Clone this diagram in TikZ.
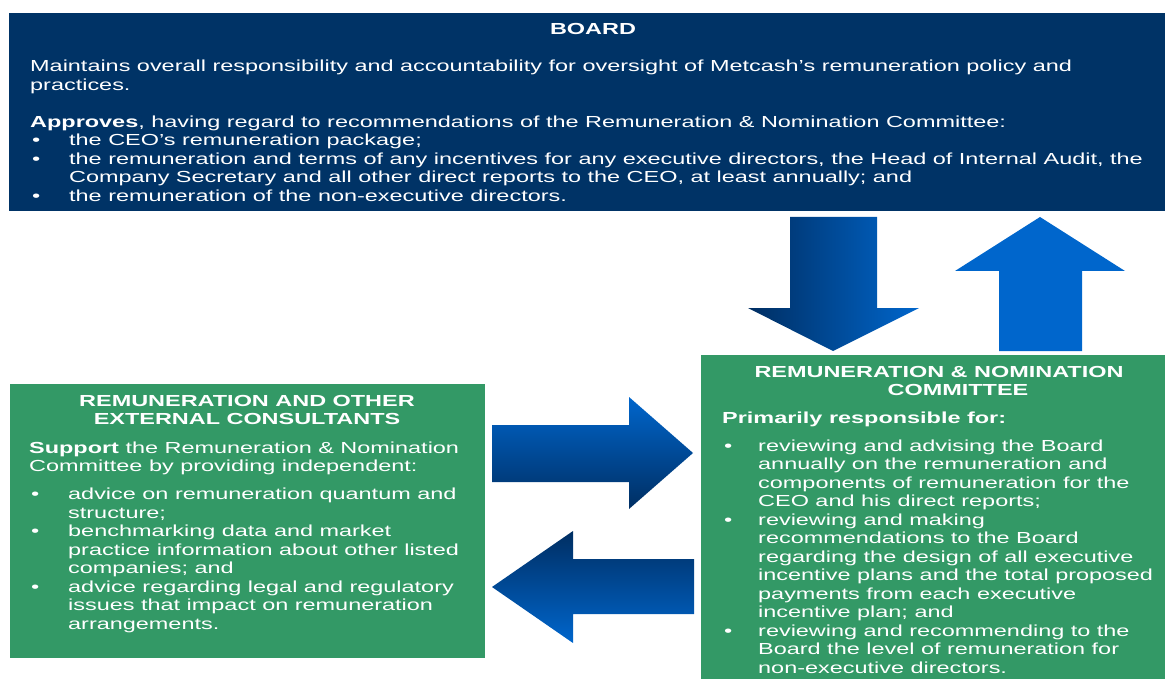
\documentclass[tikz,border=0pt]{standalone}
\usepackage{fontspec}
\setmainfont[FakeStretch=1.465]{Liberation Sans}
\definecolor{boardblue}{RGB}{0,51,102}
\definecolor{boxgreen}{RGB}{51,153,102}
\definecolor{arrowlight}{RGB}{0,102,204}
\definecolor{arrowdark}{RGB}{0,46,98}

% bullet lists: \bind is the hanging indent of the item text
\newlength\bind
\newcommand\bl[1]{\hspace*{2pt}\makebox[\dimexpr\bind-2pt\relax][l]{\textbullet}#1}
\newcommand\cl[1]{\hspace*{\bind}#1}
\newcommand\bodyfont{\fontsize{16}{18.5}\selectfont}

\begin{document}
\begin{tikzpicture}[x=1pt,y=-1pt,
  panel/.style={anchor=north west, inner sep=0pt, outer sep=0pt},
  txt/.style={anchor=base west, inner sep=0pt, text=white},
  ttl/.style={anchor=base, inner sep=0pt, text=white, font=\bodyfont\bfseries}]
\useasboundingbox (0,0) rectangle (1165,679);

% ---- boxes ----
\node[panel, fill=boardblue, minimum width=1156pt, minimum height=198pt] (board) at (9,13) {};
\node[panel, fill=boxgreen, minimum width=475pt, minimum height=274pt] (cons) at (10,384) {};
\node[panel, fill=boxgreen, minimum width=464pt, minimum height=324pt] (rnc) at (701,355) {};

% ---- board text ----
\node[ttl] (boardT) at (593,35) {BOARD};
\node[txt] (boardB) at (30,72) {\begin{minipage}[t]{1130pt}\bodyfont\setlength\bind{39pt}%
Maintains overall responsibility and accountability for oversight of Metcash’s remuneration policy and\\
practices.\\[18.5pt]
\textbf{Approves}, having regard to recommendations of the Remuneration \& Nomination Committee:\\
\bl{the CEO’s remuneration package;}\\
\bl{the remuneration and terms of any incentives for any executive directors, the Head of Internal Audit, the}\\
\cl{Company Secretary and all other direct reports to the CEO, at least annually; and}\\
\bl{the remuneration of the non-executive directors.}
\end{minipage}};

% ---- consultants text ----
\node[ttl] (consT1) at (247,406) {REMUNERATION AND OTHER};
\node[ttl] (consT2) at (247,424) {EXTERNAL CONSULTANTS};
\node[txt] (consB) at (29,453) {\begin{minipage}[t]{460pt}\bodyfont\setlength\bind{39pt}%
\textbf{Support} the Remuneration \& Nomination\\
Committee by providing independent:\\[9.5pt]
\bl{advice on remuneration quantum and}\\
\cl{structure;}\\
\bl{benchmarking data and market}\\
\cl{practice information about other listed}\\
\cl{companies; and}\\
\bl{advice regarding legal and regulatory}\\
\cl{issues that impact on remuneration}\\
\cl{arrangements.}
\end{minipage}};

% ---- committee text ----
\node[ttl] (rncT1) at (939,377) {REMUNERATION \& NOMINATION};
\node[ttl] (rncT2) at (958,395) {COMMITTEE};
\node[txt] (rncB) at (722,423) {\begin{minipage}[t]{440pt}\bodyfont\setlength\bind{36pt}%
\textbf{Primarily responsible for:}\\[9.5pt]
\bl{reviewing and advising the Board}\\
\cl{annually on the remuneration and}\\
\cl{components of remuneration for the}\\
\cl{CEO and his direct reports;}\\
\bl{reviewing and making}\\
\cl{recommendations to the Board}\\
\cl{regarding the design of all executive}\\
\cl{incentive plans and the total proposed}\\
\cl{payments from each executive}\\
\cl{incentive plan; and}\\
\bl{reviewing and recommending to the}\\
\cl{Board the level of remuneration for}\\
\cl{non-executive directors.}
\end{minipage}};

% ---- block arrows ----
% board -> committee (down)
\shade[left color=arrowdark, right color=arrowlight]
  (790,217) -- (877,217) -- (877,308) -- (919,308) -- (833,351)
  -- (748,308) -- (790,308) -- cycle;
% committee -> board (up)
\fill[arrowlight]
  (1040,217) -- (1125,271) -- (1082,271) -- (1082,351) -- (999,351)
  -- (999,271) -- (955,271) -- cycle;
% consultants -> committee (right)
\shade[top color=arrowlight, bottom color=arrowdark]
  (492,425) -- (629,425) -- (629,397) -- (693,453) -- (629,509)
  -- (629,482) -- (492,482) -- cycle;
% committee -> consultants (left)
\shade[top color=arrowdark, bottom color=arrowlight]
  (694,559) -- (573,559) -- (573,531) -- (492,587) -- (573,643)
  -- (573,614) -- (694,614) -- cycle;
\end{tikzpicture}
\end{document}
